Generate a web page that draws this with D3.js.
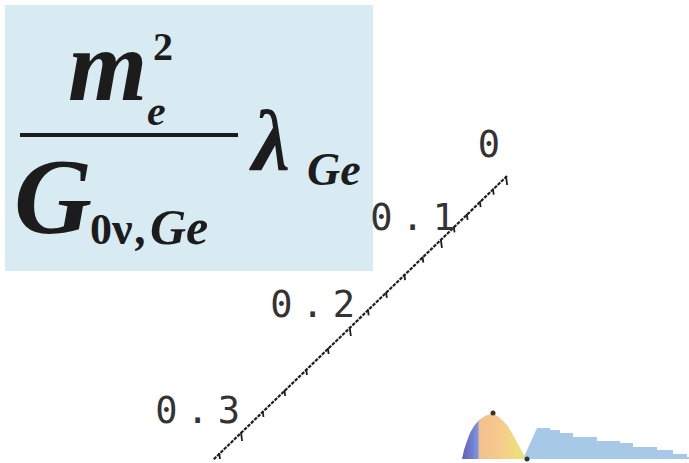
<!DOCTYPE html>
<html>
<head>
<meta charset="utf-8">
<script src="https://cdn.jsdelivr.net/npm/d3@7"></script>
<style>
  body { margin: 0; background: #fff; }
  svg { display: block; }
</style>
</head>
<body>
<div id="chart"></div>
<script>
// axis ticks (3D box edge, seen in perspective)
const majorTicks = [0, 0.1, 0.2, 0.3];
const majorLabels = ["0", "0.1", "0.2", "0.3"];
const minorTicks = [0.02, 0.04, 0.06, 0.08, 0.12, 0.14, 0.16, 0.18, 0.22, 0.24, 0.26, 0.28, 0.32];

// slice of the distribution at the foot of the axis
const humpX = [1.75, 2.25, 3, 3.75, 4.75, 6, 7.5, 9.5, 11.25, 13, 14.5, 16, 17.25, 18];
const humpH = [0, 2.25, 4.5, 6.5, 8.25, 9.75, 10.75, 11.5, 10.25, 8.5, 6, 3.25, 1, 0];
const tailX = [17, 20.5, 23.75, 26.25, 29.5, 35.5, 41.25, 44.5, 50.5, 54.5, 58, 58.5];
const tailH = [0, 7.75, 7.25, 6.5, 5.5, 4.5, 4, 3, 2.25, 1.25, 0.5, 0.5];

let dimensions = { width: 689, height: 463 };

const svg = d3
  .select("#chart")
  .append("svg")
  .attr("width", dimensions.width)
  .attr("height", dimensions.height);

// formula panel
svg
  .append("rect")
  .attr("x", 5)
  .attr("y", 5)
  .attr("width", 368)
  .attr("height", 266)
  .attr("fill", "#d8ebf3");

const serif = "'Liberation Serif', 'Times New Roman', serif";
const ink = "#1c1c1c";

function put(txt, x, y, size, italic) {
  return svg
    .append("text")
    .attr("x", x)
    .attr("y", y)
    .attr("font-family", serif)
    .attr("font-weight", "bold")
    .attr("font-style", italic ? "italic" : "normal")
    .attr("font-size", size)
    .attr("fill", ink)
    .text(txt);
}

put("m", 68, 100, 102, true);
put("e", 147, 125, 42, true);
put("2", 153, 60, 40, false);
svg
  .append("rect")
  .attr("x", 20)
  .attr("y", 133)
  .attr("width", 218)
  .attr("height", 4)
  .attr("fill", ink);
put("G", 14, 233, 108, true);
put("0", 90, 244, 44, false);
put("ν", 112, 244, 46, false);
put(",", 136, 244, 46, true);
put("Ge", 150, 244, 50, true);
put("λ", 252, 170, 86, true);
put("Ge", 307, 185, 46, true);

// the oblique axis
const tickY = d3.scaleLinear().domain(majorTicks).range([177, 240, 328, 433]);
const lineX = d3.scaleLinear().domain([176, 460]).range([507, 213]);
const labelRight = d3.scaleLinear().domain(majorTicks).range([500, 455, 355, 240]);
const labelBase = d3.scaleLinear().domain(majorTicks).range([157, 230, 317, 423]);

const axis = svg.append("g").attr("class", "axis");

axis
  .append("line")
  .attr("x1", lineX(176))
  .attr("y1", 176)
  .attr("x2", lineX(460))
  .attr("y2", 460)
  .attr("stroke", "#1e1e1e")
  .attr("stroke-width", 2.2)
  .attr("stroke-dasharray", "3.5,1.2");

function tick(v, len) {
  const y = tickY(v);
  const x = lineX(y);
  axis
    .append("line")
    .attr("x1", x)
    .attr("y1", y - 1)
    .attr("x2", x + len * 0.15)
    .attr("y2", y + len)
    .attr("stroke", "#1e1e1e")
    .attr("stroke-width", 1.8);
}
majorTicks.forEach((v) => tick(v, 8));
minorTicks.forEach((v) => tick(v, 5));

axis
  .selectAll("text")
  .data(majorTicks)
  .enter()
  .append("text")
  .attr("x", (d) => labelRight(d) + 9)
  .attr("y", (d) => labelBase(d))
  .attr("text-anchor", "end")
  .attr("font-family", "'DejaVu Sans Mono', monospace")
  .attr("font-size", 37)
  .attr("letter-spacing", 9)
  .attr("fill", "#333")
  .text((d, i) => majorLabels[i]);

// distribution slice
const fx = d3.scaleLinear().domain([0, 58.5]).range([455, 689]);
const fy = d3.scaleLinear().domain([0, 12]).range([459, 411]);

const defs = svg.append("defs");
const grad = defs
  .append("linearGradient")
  .attr("id", "humpFill")
  .attr("gradientUnits", "userSpaceOnUse")
  .attr("x1", fx(humpX[0]))
  .attr("x2", fx(humpX[humpX.length - 1]))
  .attr("y1", 0)
  .attr("y2", 0);
[
  [0, "#6a5cb4"],
  [0.16, "#6f80d2"],
  [0.24, "#7f95db"],
  [0.27, "#f3bf8f"],
  [0.62, "#f6cc8b"],
  [0.85, "#efde7e"],
  [1, "#e6e07c"],
].forEach((s) =>
  grad.append("stop").attr("offset", s[0]).attr("stop-color", s[1])
);

const tailPts = tailX.map((x, i) => [x, tailH[i]]);
const humpPts = humpX.map((x, i) => [x, humpH[i]]);

const area = d3
  .area()
  .x((d) => fx(d[0]))
  .y0(fy(0))
  .y1((d) => fy(d[1]));

svg
  .append("path")
  .attr("d", area(tailPts.slice(0, 2)))
  .attr("fill", "#a8c8e8");
svg
  .append("path")
  .attr("d", area.curve(d3.curveStepAfter)(tailPts.slice(1)))
  .attr("fill", "#a8c8e8");

svg
  .append("path")
  .attr("d", area.curve(d3.curveLinear)(humpPts))
  .attr("fill", "url(#humpFill)");

svg
  .selectAll(".dot")
  .data([humpPts[7], humpPts[humpPts.length - 1]])
  .enter()
  .append("circle")
  .attr("class", "dot")
  .attr("cx", (d) => fx(d[0]))
  .attr("cy", (d) => fy(d[1]))
  .attr("r", 2.5)
  .attr("fill", "#333");
</script>
</body>
</html>
